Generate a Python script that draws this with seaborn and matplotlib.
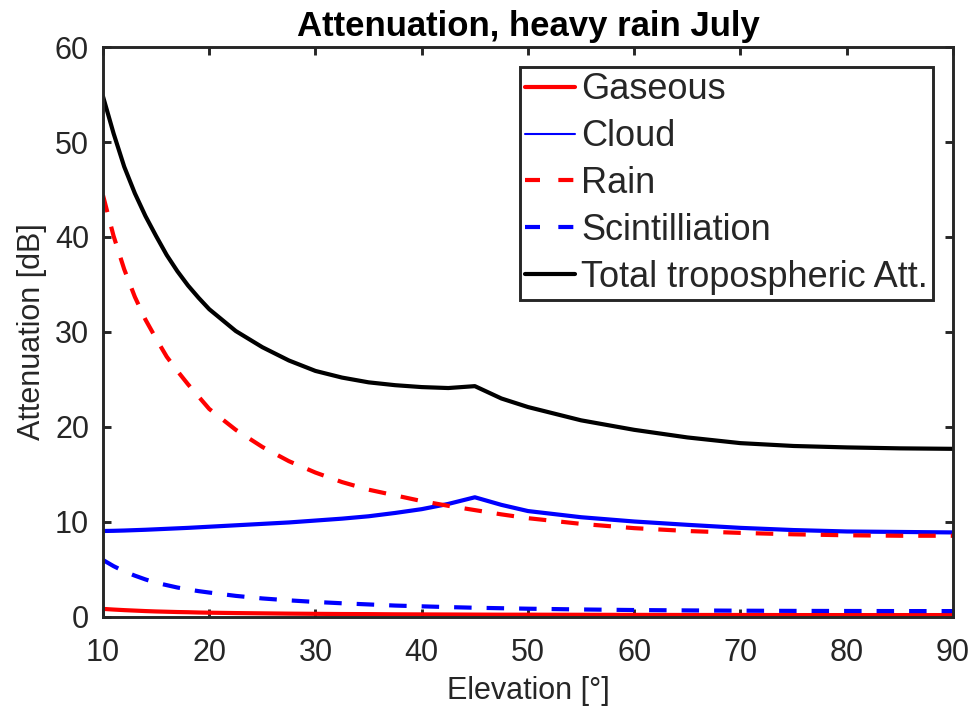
import matplotlib
matplotlib.use("Agg")
import matplotlib.pyplot as plt
import seaborn as sns
import pandas as pd

elevation = [10, 11, 12, 13, 14, 15, 16, 17, 18, 19, 20, 22.5, 25, 27.5, 30, 32.5,
             35, 37.5, 40, 42.5, 45, 47.5, 50, 55, 60, 65, 70, 75, 80, 85, 90]
gaseous = [0.85, 0.78, 0.72, 0.67, 0.62, 0.58, 0.55, 0.52, 0.50, 0.47, 0.45, 0.41,
           0.38, 0.35, 0.33, 0.31, 0.30, 0.28, 0.27, 0.26, 0.25, 0.24, 0.24, 0.23,
           0.22, 0.21, 0.21, 0.20, 0.20, 0.20, 0.20]
cloud = [9.05, 9.07, 9.10, 9.14, 9.18, 9.23, 9.28, 9.33, 9.38, 9.44, 9.50, 9.65,
         9.80, 9.95, 10.15, 10.35, 10.6, 10.95, 11.35, 11.9, 12.6, 11.8, 11.15,
         10.5, 10.05, 9.7, 9.38, 9.15, 9.0, 8.95, 8.9]
rain = [44.4, 40.1, 36.6, 33.7, 31.3, 29.3, 27.4, 25.9, 24.5, 23.2, 21.9, 19.7,
        17.9, 16.4, 15.2, 14.2, 13.4, 12.8, 12.2, 11.7, 11.25, 10.8, 10.4, 9.8,
        9.35, 9.05, 8.85, 8.7, 8.6, 8.55, 8.55]
scint = [6.0, 5.35, 4.8, 4.35, 3.95, 3.6, 3.35, 3.1, 2.9, 2.72, 2.57, 2.22, 1.95,
         1.75, 1.58, 1.44, 1.32, 1.2, 1.12, 1.04, 0.97, 0.92, 0.87, 0.79, 0.73,
         0.69, 0.66, 0.64, 0.63, 0.62, 0.62]
total = [54.8, 50.9, 47.4, 44.6, 42.2, 40.1, 38.1, 36.4, 34.9, 33.6, 32.4, 30.1,
         28.4, 27.0, 25.9, 25.2, 24.7, 24.4, 24.2, 24.1, 24.3, 23.0, 22.1, 20.7,
         19.7, 18.9, 18.3, 18.0, 17.85, 17.75, 17.7]

labels = ["Gaseous", "Cloud", "Rain", "Scintilliation", "Total tropospheric Att."]
series = [gaseous, cloud, rain, scint, total]
colors = ["#ff0000", "#0000ff", "#ff0000", "#0000ff", "#000000"]
dashed = [False, False, True, True, False]

sns.set_theme(style="white")
plt.rcParams["font.family"] = ["Liberation Sans", "DejaVu Sans"]

fig = plt.figure(figsize=(9.76, 7.2), dpi=100)
ax = fig.add_axes([0.1055, 0.1431, 0.8709, 0.7916])

dash = (0, (4.2, 3.6))
for lab, ys, col, d in zip(labels, series, colors, dashed):
    df = pd.DataFrame({"Elevation": elevation, "Att": ys})
    sns.lineplot(data=df, x="Elevation", y="Att", ax=ax, color=col, lw=3,
                 linestyle=dash if d else "-", label=lab)

ax.set_xlim(10, 90)
ax.set_ylim(0, 60)
ax.set_xticks(range(10, 91, 10))
ax.set_yticks(range(0, 61, 10))

dark = "#262626"
for s in ax.spines.values():
    s.set_visible(True)
    s.set_color(dark)
    s.set_linewidth(2.1)
ax.tick_params(direction="in", length=6, width=2.1, colors=dark, labelsize=22,
               top=True, right=True, bottom=True, left=True)
ax.tick_params(axis="x", pad=15)
ax.tick_params(axis="y", pad=10)
for t in ax.get_xticklabels() + ax.get_yticklabels():
    t.set_color(dark)

ax.set_xlabel("Elevation [°]", fontsize=22, color=dark, labelpad=6)
ax.set_ylabel("Attenuation [dB]", fontsize=22, color=dark, labelpad=6)
ax.set_title("Attenuation, heavy rain July", fontsize=25, fontweight="bold",
             color="black", pad=8)

leg = ax.legend(loc="upper right", fontsize=26, frameon=True, fancybox=False,
                framealpha=1, edgecolor=dark, borderaxespad=0.55,
                handlelength=1.38, handletextpad=0.17, labelspacing=0.33,
                borderpad=0.15)
leg.get_frame().set_linewidth(2.1)
for i, h in enumerate(leg.get_lines()):
    h.set_linewidth(1.5 if i == 1 else 3)
    if dashed[i]:
        h.set_linestyle((0, (3.6, 4.4)))

fig.savefig("out.png", dpi=100)
